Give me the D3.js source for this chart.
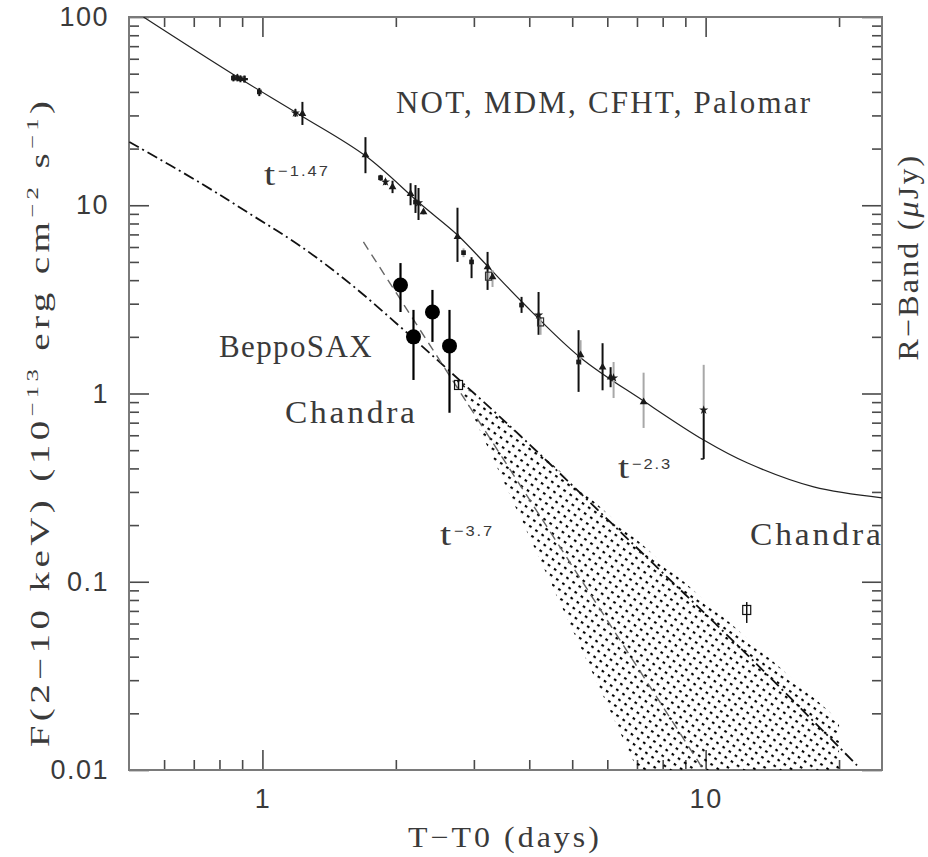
<!DOCTYPE html>
<html>
<head>
<meta charset="utf-8">
<script src="https://cdn.jsdelivr.net/npm/d3@7"></script>
<style>
    body { margin: 0; background: #fff; }
    svg text { fill: #3a3a3a; }
    .serif { font-family: "Liberation Serif", "Times New Roman", serif; }
    .sans { font-family: "Liberation Sans", Arial, sans-serif; }
</style>
</head>
<body>
<div id="chart"></div>
<script>

// ---- values ----
const xDomain = [0.5, 25];
const yDomain = [0.01, 100];
const xTickValues = [1, 10];
const xTickLabels = ["1", "10"];
const yTickValues = [100, 10, 1, 0.1, 0.01];
const yTickLabels = ["100", "10", "1", "0.1", "0.01"];

// optical points: day, flux, low, high, marker, group (0 black bar, 1 grey bar, 2 mixed)
const opticalPoints = [
    [0.860, 47.4, 45.5, 49.5, "sq", 0],
    [0.878, 47.4, 45.5, 49.5, "tri", 0],
    [0.892, 47.0, 45.0, 49.0, "sq", 0],
    [0.911, 46.8, 45.0, 48.8, "cross", 0],
    [0.984, 40.0, 38.0, 42.0, "sq", 0],
    [1.187, 30.9, 29.5, 32.5, "star", 0],
    [1.231, 30.6, 26.7, 35.4, "tri", 0],
    [1.708, 18.5, 14.8, 23.0, "tri", 0],
    [1.847, 14.0, 13.5, 14.5, "sq", 0],
    [1.895, 13.3, 12.8, 13.8, "star", 0],
    [1.966, 12.5, 11.6, 13.5, "tri", 0],
    [2.159, 11.5, 10.0, 13.1, "tri", 0],
    [2.215, 10.4, 9.1, 12.8, "sq", 0],
    [2.250, 10.3, 8.35, 12.35, "star", 0],
    [2.309, 9.2, 8.9, 9.5, "tri", 1],
    [2.755, 6.8, 5.0, 9.7, "tri", 0],
    [2.843, 5.6, 5.3, 5.9, "sq", 1],
    [2.964, 5.0, 4.1, 5.3, "sq", 0],
    [3.221, 4.7, 3.55, 5.65, "tri", 0],
    [3.237, 4.2, 4.0, 4.4, "open", 1],
    [3.305, 4.16, 3.68, 4.53, "tri", 1],
    [3.843, 2.95, 2.68, 3.26, "sq", 0],
    [4.198, 2.61, 2.05, 3.46, "star", 0],
    [4.242, 2.40, 2.05, 2.55, "open", 1],
    [5.168, 1.47, 1.02, 2.17, "sq", 0],
    [5.222, 1.60, 1.42, 1.92, "tri", 1],
    [5.854, 1.38, 1.04, 1.85, "tri", 0],
    [6.104, 1.22, 1.08, 1.38, "tri", 0],
    [6.199, 1.21, 0.946, 1.47, "star", 1],
    [7.245, 0.901, 0.656, 1.29, "tri", 1],
    [9.90, 0.817, 0.449, 1.42, "star", 2]
];

// BeppoSAX x-ray points
const saxDays = [2.049, 2.192, 2.419, 2.643];
const saxFlux = [3.77, 2.00, 2.71, 1.79];
const saxLow = [2.71, 1.18, 1.88, 0.79];
const saxHigh = [4.93, 2.78, 3.55, 2.78];

// Chandra x-ray points
const chandraDays = [2.770, 12.38];
const chandraFlux = [1.11, 0.0708];
const chandraLow = [1.05, 0.0604];
const chandraHigh = [1.18, 0.078];

// optical fit (solid)
const opticalFitDays = [0.539, 0.860, 1.218, 1.708, 2.274, 2.755, 3.221, 3.843, 5.222, 7.245, 9.90, 12.44, 17.53, 25.09];
const opticalFitFlux = [100, 49.5, 30.1, 18.3, 10.15, 6.95, 4.75, 3.08, 1.55, 0.912, 0.566, 0.427, 0.319, 0.279];

// x-ray model (dash-dot)
const xrayFitDays = [0.501, 0.7245, 0.954, 1.218, 1.580, 2.049, 2.657, 3.823, 7.63, 12.83, 22.03];
const xrayFitFlux = [21.7, 13.13, 8.77, 6.07, 3.82, 2.256, 1.301, 0.5945, 0.1243, 0.0379, 0.0105];

// steep t^-3.7 decay (dashed)
const steepDays = [1.69, 9.90];
const steepFlux = [6.38, 0.01];

// shaded allowed region
const wedgeDays = [2.728, 7.02, 20, 20];
const wedgeFlux = [1.209, 0.01, 0.01, 0.0184];


// ---- drawing area ----
const width = 928, height = 857;
const plot = {left: 129, right: 882, top: 17, bottom: 770};

const svg = d3.select("#chart").append("svg")
    .attr("width", width)
    .attr("height", height);

const x = d3.scaleLog().domain(xDomain).range([plot.left, plot.right]);
const y = d3.scaleLog().domain(yDomain).range([plot.bottom, plot.top]);

const defs = svg.append("defs");
defs.append("clipPath").attr("id", "plotClip")
    .append("rect")
    .attr("x", plot.left).attr("y", plot.top)
    .attr("width", plot.right - plot.left)
    .attr("height", plot.bottom - plot.top);

// dotted hatching of the wedge
const pat = defs.append("pattern")
    .attr("id", "dots")
    .attr("patternUnits", "userSpaceOnUse")
    .attr("width", 7.5).attr("height", 7)
    .attr("patternTransform", "rotate(35)");
pat.append("rect")
    .attr("x", 0).attr("y", 0)
    .attr("width", 2.7).attr("height", 2.1)
    .attr("fill", "#000");

// ---- axes: majors + minors on all four sides, ticks pointing in ----
const isMajor = v => Math.abs(Math.log10(v) - Math.round(Math.log10(v))) < 1e-6;
const xMinor = x.ticks().filter(v => !isMajor(v) && v > xDomain[0] * 1.01 && v < xDomain[1]);
const yMinor = y.ticks().filter(v => !isMajor(v));

function addAxis(axis, transform) {
    let g = svg.append("g")
        .attr("transform", transform)
        .attr("font-size", null)
        .attr("font-family", null)
        .style("color", "#4a4a4a")
        .call(axis);
    g.select(".domain").remove();
    g.selectAll(".tick line").attr("stroke-width", 1.6);
    return g;
}

addAxis(d3.axisBottom(x).tickValues(xTickValues).tickFormat((d, i) => xTickLabels[i]).tickSize(-20).tickPadding(19),
    `translate(0,${plot.bottom})`)
    .selectAll("text").attr("class", "sans").style("font-size", "27px").style("letter-spacing", "1.5px");
addAxis(d3.axisBottom(x).tickValues(xMinor).tickFormat("").tickSize(-10), `translate(0,${plot.bottom})`);
addAxis(d3.axisTop(x).tickValues(xTickValues).tickFormat("").tickSize(-20), `translate(0,${plot.top})`);
addAxis(d3.axisTop(x).tickValues(xMinor).tickFormat("").tickSize(-10), `translate(0,${plot.top})`);

addAxis(d3.axisLeft(y).tickValues(yTickValues).tickFormat((d, i) => yTickLabels[i]).tickSize(-20).tickPadding(20),
    `translate(${plot.left},0)`)
    .selectAll("text").attr("class", "sans").style("font-size", "27px").style("letter-spacing", "1.5px");
addAxis(d3.axisLeft(y).tickValues(yMinor).tickFormat("").tickSize(-10), `translate(${plot.left},0)`);
addAxis(d3.axisRight(y).tickValues(yTickValues).tickFormat("").tickSize(-20), `translate(${plot.right},0)`);
addAxis(d3.axisRight(y).tickValues(yMinor).tickFormat("").tickSize(-10), `translate(${plot.right},0)`);

svg.append("rect")
    .attr("x", plot.left).attr("y", plot.top)
    .attr("width", plot.right - plot.left)
    .attr("height", plot.bottom - plot.top)
    .attr("fill", "none")
    .attr("stroke", "#7a7a7a")
    .attr("stroke-width", 2);

// ---- marks ----
const layer = svg.append("g").attr("clip-path", "url(#plotClip)");

const zip = (a, b) => a.map((v, i) => [v, b[i]]);
const line = d3.line().x(d => x(d[0])).y(d => y(d[1]));
const smooth = d3.line().x(d => x(d[0])).y(d => y(d[1])).curve(d3.curveCatmullRom.alpha(0.5));

layer.append("path")
    .datum(zip(wedgeDays, wedgeFlux))
    .attr("d", d => line(d) + "Z")
    .attr("fill", "url(#dots)");

layer.append("path")
    .datum(zip(opticalFitDays, opticalFitFlux))
    .attr("d", smooth)
    .attr("fill", "none")
    .attr("stroke", "#222")
    .attr("stroke-width", 1.2);

layer.append("path")
    .datum(zip(xrayFitDays, xrayFitFlux))
    .attr("d", smooth)
    .attr("fill", "none")
    .attr("stroke", "#111")
    .attr("stroke-width", 1.8)
    .attr("stroke-dasharray", "11,4,2,4");

layer.append("path")
    .datum(zip(steepDays, steepFlux))
    .attr("d", line)
    .attr("fill", "none")
    .attr("stroke", "#666")
    .attr("stroke-width", 1.4)
    .attr("stroke-dasharray", "9,6");

// optical error bars
const grey = "#a8a8a8";
opticalPoints.forEach(p => {
    let [t, f, lo, hi, sym, grp] = p;
    if (grp === 2) {
        layer.append("line").attr("x1", x(t)).attr("x2", x(t)).attr("y1", y(f)).attr("y2", y(hi))
            .attr("stroke", grey).attr("stroke-width", 2);
        layer.append("line").attr("x1", x(t)).attr("x2", x(t)).attr("y1", y(lo)).attr("y2", y(f))
            .attr("stroke", "#111").attr("stroke-width", 2);
        layer.append("line").attr("x1", x(t) - 3).attr("x2", x(t)).attr("y1", y(lo)).attr("y2", y(lo))
            .attr("stroke", "#111").attr("stroke-width", 1.5);
    } else {
        layer.append("line").attr("x1", x(t)).attr("x2", x(t)).attr("y1", y(lo)).attr("y2", y(hi))
            .attr("stroke", grp === 1 ? grey : "#111").attr("stroke-width", 2);
    }
});

const symbolTypes = {tri: d3.symbolTriangle, sq: d3.symbolSquare, star: d3.symbolStar, cross: d3.symbolCross};
opticalPoints.forEach(p => {
    let [t, f, , , sym] = p;
    if (sym === "open") {
        layer.append("rect").attr("x", x(t) - 3).attr("y", y(f) - 4).attr("width", 6).attr("height", 8)
            .attr("fill", "none").attr("stroke", "#333").attr("stroke-width", 1.2);
    } else {
        layer.append("path")
            .attr("transform", `translate(${x(t)},${y(f)})`)
            .attr("d", d3.symbol().type(symbolTypes[sym]).size(sym === "sq" ? 22 : 26)())
            .attr("fill", "#1a1a1a");
    }
});

// BeppoSAX
saxDays.forEach((t, i) => {
    layer.append("line").attr("x1", x(t)).attr("x2", x(t))
        .attr("y1", y(saxLow[i])).attr("y2", y(saxHigh[i]))
        .attr("stroke", "#000").attr("stroke-width", 2.2);
    layer.append("circle").attr("cx", x(t)).attr("cy", y(saxFlux[i])).attr("r", 7.5).attr("fill", "#000");
});

// Chandra
chandraDays.forEach((t, i) => {
    layer.append("line").attr("x1", x(t)).attr("x2", x(t))
        .attr("y1", y(chandraLow[i])).attr("y2", y(chandraHigh[i]))
        .attr("stroke", "#111").attr("stroke-width", 1.5);
    layer.append("rect").attr("x", x(t) - 4).attr("y", y(chandraFlux[i]) - 4.5)
        .attr("width", 8).attr("height", 9)
        .attr("fill", "none").attr("stroke", "#111").attr("stroke-width", 1.2);
});

// ---- texts ----
// widen a text a little and spread its letters so it spans the width seen in the figure
function placeText(sel, px, py, targetWidth, glyphScale, rotate) {
    let node = sel.node();
    let n = node.getNumberOfChars();
    let w = node.getBBox().width;
    let spacing = Math.max(0, (targetWidth / glyphScale - w) / n);
    sel.style("letter-spacing", spacing + "px");
    sel.attr("transform", `translate(${px},${py})` + (rotate ? ` rotate(${rotate})` : "") + ` scale(${glyphScale},1)`);
    return sel;
}

function label(txt, px, py, w, size, gs) {
    let t = svg.append("text").attr("class", "serif").style("font-size", size + "px").text(txt);
    placeText(t, px, py, w, gs);
}

label("NOT,  MDM,  CFHT,  Palomar", 396, 113, 417, 31, 1.0);
label("BeppoSAX", 219, 357, 154, 31, 1.0);
label("Chandra", 285, 423, 133, 31, 1.08);
label("Chandra", 750, 545, 134, 31, 1.08);

function powerLabel(px, baseline, exp, supWidth) {
    let t = svg.append("text").attr("class", "serif").style("font-size", "31px").text("t");
    t.attr("transform", `translate(${px},${baseline}) scale(1.3,1)`);
    let s = svg.append("text").attr("class", "sans").style("font-size", "15px").text(exp);
    placeText(s, px + 14, baseline - 9, supWidth, 1.1);
}
powerLabel(264, 185, "\u22121.47", 52);
powerLabel(440, 545, "\u22123.7", 40);
powerLabel(618, 478, "\u22122.3", 40);

// x axis title
label("T\u2212T0  (days)", 408, 847, 194, 29, 1.1);

// right axis title
let rt = svg.append("text").attr("class", "serif").style("font-size", "29px").attr("text-anchor", "middle");
rt.append("tspan").text("R\u2212Band  (");
rt.append("tspan").style("font-style", "italic").text("\u03bc");
rt.append("tspan").text("Jy)");
placeText(rt, 918, 257, 207, 1.1, -90);

// left axis title
let lt = svg.append("text").attr("class", "serif").style("font-size", "27px").attr("text-anchor", "middle");
lt.append("tspan").text("F(2\u221210  keV)  (10");
lt.append("tspan").style("font-size", "17px").attr("dy", -11).text("\u221213");
lt.append("tspan").attr("dy", 11).text("  erg  cm");
lt.append("tspan").style("font-size", "17px").attr("dy", -11).text("\u22122");
lt.append("tspan").attr("dy", 11).text("  s");
lt.append("tspan").style("font-size", "17px").attr("dy", -11).text("\u22121");
lt.append("tspan").attr("dy", 11).text(")");
placeText(lt, 49, 422, 651, 1.45, -90);

</script>
</body>
</html>
